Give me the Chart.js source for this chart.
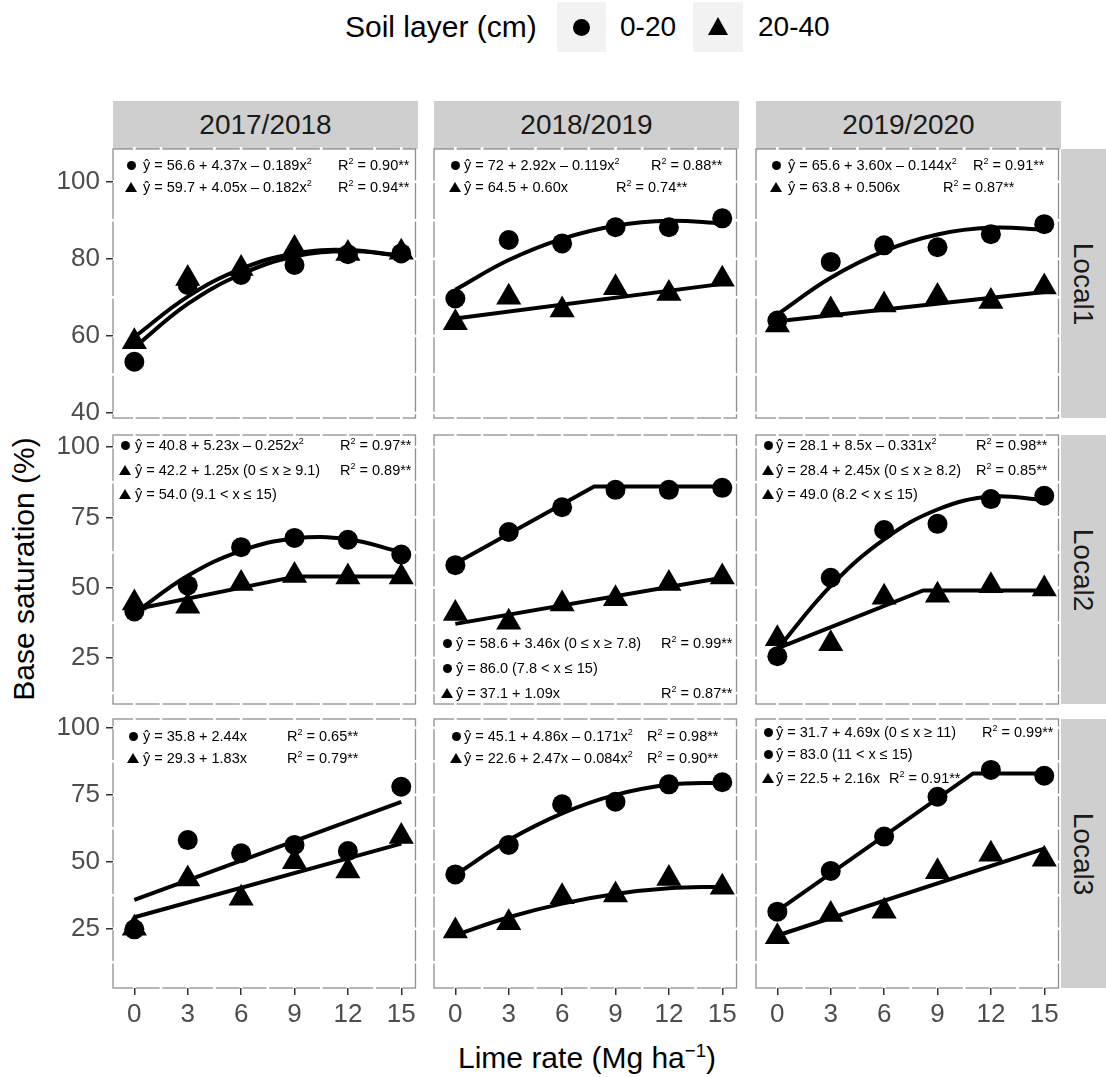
<!DOCTYPE html>
<html>
<head>
<meta charset="utf-8">
<script src="https://cdn.jsdelivr.net/npm/chart.js@4.4.0/dist/chart.umd.min.js"></script>
<style>
  html, body { margin: 0; padding: 0; background: #fff; }
  body { width: 1106px; height: 1077px; position: relative; overflow: hidden;
         font-family: "Liberation Sans", Arial, Helvetica, sans-serif; }
  .abs { position: absolute; white-space: nowrap; }
  canvas { position: absolute; }
  .strip { position: absolute; background: #cfcfcf; color: #1a1a1a; font-size: 28px;
           display: flex; align-items: center; justify-content: center; }
  .strip span { white-space: nowrap; }
  .strip.right span { transform: rotate(90deg); }
  .ann { position: absolute; font-size: 14.5px; line-height: 1; transform: translateY(-50%); white-space: nowrap; color: #000; }
  .ann sup, .ttl sup { font-size: 0.62em; vertical-align: 0.6em; line-height: 0; }
  .dot { position: absolute; background: #000; border-radius: 50%; }
  .tri { position: absolute; width: 0; height: 0; border-style: solid; border-color: transparent transparent #000 transparent; }
  .ttl { font-size: 30px; color: #000; }
</style>
</head>
<body>

<!-- legend -->
<div class="abs ttl" style="left:345px; top:27px; transform:translateY(-50%);">Soil layer (cm)</div>
<div class="abs" style="left:557px; top:2px; width:49px; height:50px; background:#f2f2f2;"></div>
<div class="dot" style="left:573px; top:18.5px; width:17px; height:17px;"></div>
<div class="abs" style="left:620px; top:27px; transform:translateY(-50%); font-size:28px;">0-20</div>
<div class="abs" style="left:693px; top:2px; width:50px; height:50px; background:#f2f2f2;"></div>
<div class="tri" style="left:708px; top:17px; border-width:0 10px 18px 10px;"></div>
<div class="abs" style="left:758px; top:27px; transform:translateY(-50%); font-size:28px;">20-40</div>

<!-- axis titles -->
<div class="abs ttl" style="left:587px; top:1058px; transform:translate(-50%,-50%);">Lime rate (Mg ha<sup>−1</sup>)</div>
<div class="abs ttl" style="left:24px; top:569px; transform:translate(-50%,-50%) rotate(-90deg);">Base saturation (%)</div>

<script>
// lime rates (x) and axis ticks
const xRates = [0, 3, 6, 9, 12, 15];
const xTicks = [0, 3, 6, 9, 12, 15];
const yTicksLocal1 = [40, 60, 80, 100];
const yTicksLocal23 = [25, 50, 75, 100];

const years = ['2017/2018', '2018/2019', '2019/2020'];
const sites = ['Local1', 'Local2', 'Local3'];

// observed base saturation, one row per season
const local1Top = [
  [53.3, 73.2, 75.8, 78.4, 81.2, 81.4],
  [69.7, 84.9, 84.0, 88.2, 88.2, 90.5],
  [64.0, 79.2, 83.5, 83.0, 86.4, 89.0]
];
const local1Sub = [
  [58.5, 74.9, 77.5, 82.7, 81.4, 81.7],
  [63.4, 70.0, 66.7, 72.5, 71.0, 74.7],
  [62.8, 66.7, 68.0, 70.2, 68.9, 72.7]
];
const local2Top = [
  [41.5, 50.8, 64.4, 67.7, 67.0, 61.8],
  [58.0, 69.8, 78.6, 84.8, 84.8, 85.5],
  [25.6, 53.5, 70.5, 72.7, 81.5, 82.7]
];
const local2Sub = [
  [44.5, 43.4, 51.5, 54.3, 53.8, 53.8],
  [40.8, 37.7, 44.2, 46.0, 51.5, 53.8],
  [31.8, 30.0, 46.6, 47.3, 50.7, 49.5]
];
const local3Top = [
  [24.8, 58.1, 53.2, 56.3, 54.0, 78.0],
  [45.3, 56.3, 71.5, 72.4, 78.9, 79.7],
  [31.4, 46.6, 59.4, 74.3, 84.3, 82.1]
];
const local3Sub = [
  [25.2, 43.6, 36.4, 50.0, 46.6, 59.4],
  [24.2, 27.3, 37.0, 37.6, 43.8, 40.5],
  [22.0, 30.3, 31.5, 46.3, 52.8, 51.0]
];

// fitted lines, [x, y] pairs
const local1TopFit = [
  [[0, 57.0], [3, 68.3], [6, 76.0], [9, 80.6], [12, 82.0], [15, 80.8]],
  [[0, 72.0], [3, 79.7], [6, 85.2], [9, 88.6], [12, 89.9], [15, 89.2]],
  [[0, 65.6], [3, 75.1], [6, 82.0], [9, 86.3], [12, 88.1], [15, 87.6]]
];
const local1SubFit = [
  [[0, 59.7], [3, 70.2], [6, 77.4], [9, 81.4], [12, 82.3], [15, 80.8]],
  [[0, 64.5], [15, 73.5]],
  [[0, 63.8], [15, 71.4]]
];
const local2TopFit = [
  [[0, 40.8], [3, 54.2], [6, 63.1], [9, 67.5], [12, 67.2], [15, 62.6]],
  [[0, 58.6], [7.8, 86.0], [15, 86.0]],
  [[0, 28.1], [3, 50.6], [6, 67.2], [9, 77.8], [12, 82.4], [15, 81.1]]
];
const local2SubFit = [
  [[0, 42.2], [9.1, 54.0], [15, 54.0]],
  [[0, 37.1], [15, 53.5]],
  [[0, 28.4], [8.2, 49.0], [15, 49.0]]
];
const local3TopFit = [
  [[0, 35.8], [15, 72.4]],
  [[0, 45.1], [3, 58.1], [6, 68.1], [9, 75.0], [12, 78.8], [15, 79.5]],
  [[0, 31.7], [11, 83.0], [15, 83.0]]
];
const local3SubFit = [
  [[0, 29.3], [15, 56.8]],
  [[0, 22.6], [3, 29.3], [6, 34.4], [9, 38.0], [12, 40.1], [15, 40.7]],
  [[0, 22.5], [15, 54.9]]
];
// quadratic fits get a smoothed line
const topCurved = [[true, true, true], [true, false, true], [false, true, false]];
const subCurved = [[true, false, false], [false, false, false], [false, true, false]];

const topObs = [local1Top, local2Top, local3Top];
const subObs = [local1Sub, local2Sub, local3Sub];
const topFits = [local1TopFit, local2TopFit, local3TopFit];
const subFits = [local1SubFit, local2SubFit, local3SubFit];

// regression labels: marker, y offset, text, R2
const notes = [
  [ // Local1
    {mx: 18, tx: 30, rx: 225, lines: [
      ['c', 16, 'ŷ = 56.6 + 4.37x – 0.189x<sup>2</sup>', '0.90**'],
      ['t', 38, 'ŷ = 59.7 + 4.05x – 0.182x<sup>2</sup>', '0.94**']]},
    {mx: 21, tx: 30, rx: [217, 182], lines: [
      ['c', 16, 'ŷ = 72 + 2.92x – 0.119x<sup>2</sup>', '0.88**'],
      ['t', 38, 'ŷ = 64.5 + 0.60x', '0.74**']]},
    {mx: 20, tx: 32, rx: [217, 187], lines: [
      ['c', 16, 'ŷ = 65.6 + 3.60x – 0.144x<sup>2</sup>', '0.91**'],
      ['t', 38, 'ŷ = 63.8 + 0.506x', '0.87**']]}
  ],
  [ // Local2
    {mx: 12, tx: 22, rx: 227, lines: [
      ['c', 10, 'ŷ = 40.8 + 5.23x – 0.252x<sup>2</sup>', '0.97**'],
      ['t', 35, 'ŷ = 42.2 + 1.25x (0 ≤ x ≥ 9.1)', '0.89**'],
      ['t', 59, 'ŷ = 54.0 (9.1 &lt; x ≤ 15)', null]]},
    {mx: 13, tx: 22, rx: 227, lines: [
      ['c', 208, 'ŷ = 58.6 + 3.46x (0 ≤ x ≥ 7.8)', '0.99**'],
      ['c', 233, 'ŷ = 86.0 (7.8 &lt; x ≤ 15)', null],
      ['t', 258, 'ŷ = 37.1 + 1.09x', '0.87**']]},
    {mx: 12, tx: 20, rx: 220, lines: [
      ['c', 10, 'ŷ = 28.1 + 8.5x – 0.331x<sup>2</sup>', '0.98**'],
      ['t', 35, 'ŷ = 28.4 + 2.45x (0 ≤ x ≥ 8.2)', '0.85**'],
      ['t', 59, 'ŷ = 49.0 (8.2 &lt; x ≤ 15)', null]]}
  ],
  [ // Local3
    {mx: 20, tx: 30, rx: 174, lines: [
      ['c', 17, 'ŷ = 35.8 + 2.44x', '0.65**'],
      ['t', 39, 'ŷ = 29.3 + 1.83x', '0.79**']]},
    {mx: 22, tx: 30, rx: 213, lines: [
      ['c', 17, 'ŷ = 45.1 + 4.86x – 0.171x<sup>2</sup>', '0.98**'],
      ['t', 39, 'ŷ = 22.6 + 2.47x – 0.084x<sup>2</sup>', '0.90**']]},
    {mx: 12, tx: 20, rx: [226, 0, 133], lines: [
      ['c', 13, 'ŷ = 31.7 + 4.69x (0 ≤ x ≥ 11)', '0.99**'],
      ['c', 35, 'ŷ = 83.0 (11 &lt; x ≤ 15)', null],
      ['t', 59, 'ŷ = 22.5 + 2.16x', '0.91**']]}
  ]
];

// layout
const FONT = '"Liberation Sans", Arial, Helvetica, sans-serif';
const colLeft = [113, 434, 756];
const rowTop = [149, 435, 719];
const PW = 305, PH = 269;
const PAD = {l: 75, t: 24, r: 12, b: 50};
const xRange = [-1.2, 15.8];
const yRange = [[38.7, 108.5], [8.6, 104.3], [2.9, 103.3]];

// gray panel frame, broken by the white grid lines like in the figure
const panelFrame = {
  id: 'panelFrame',
  beforeDraw(chart, args, opts) {
    const {ctx, chartArea: a} = chart;
    const xs = chart.scales.x, ys = chart.scales.y;
    ctx.save();
    ctx.strokeStyle = '#8f8f8f';
    ctx.lineWidth = 1.3;
    ctx.strokeRect(a.left, a.top, a.right - a.left, a.bottom - a.top);
    ctx.fillStyle = '#fff';
    opts.xGrid.forEach(v => {
      const p = xs.getPixelForValue(v);
      if (p < a.left + 2 || p > a.right - 2) return;
      ctx.fillRect(p - 1.3, a.top - 2, 2.6, 4);
      ctx.fillRect(p - 1.3, a.bottom - 2, 2.6, 4);
    });
    opts.yGrid.forEach(v => {
      const p = ys.getPixelForValue(v);
      if (p < a.top + 2 || p > a.bottom - 2) return;
      ctx.fillRect(a.left - 2, p - 1.3, 4, 2.6);
      ctx.fillRect(a.right - 2, p - 1.3, 4, 2.6);
    });
    ctx.restore();
  }
};

function pts(ys) { return xRates.map((x, i) => ({x: x, y: ys[i]})); }
function line(arr) { return arr.map(p => ({x: p[0], y: p[1]})); }
function halfSteps(ticks, lo, hi) {
  const step = (ticks[1] - ticks[0]) / 2;
  const out = [];
  for (let v = ticks[0] - 2 * step; v <= ticks[ticks.length - 1] + 2 * step; v += step) {
    if (v > lo && v < hi) out.push(v);
  }
  return out;
}

function addEl(cls, style, html) {
  const d = document.createElement('div');
  d.className = cls;
  Object.assign(d.style, style);
  if (html != null) d.innerHTML = html;
  document.body.appendChild(d);
  return d;
}

// strips
years.forEach((yr, c) => {
  addEl('strip', {left: colLeft[c] + 'px', top: '101px', width: PW + 'px', height: '48px'}, '<span>' + yr + '</span>');
});
sites.forEach((s, r) => {
  addEl('strip right', {left: '1061px', top: rowTop[r] + 'px', width: '45px', height: PH + 'px'}, '<span>' + s + '</span>');
});

for (let r = 0; r < 3; r++) {
  for (let c = 0; c < 3; c++) {
    const cv = document.createElement('canvas');
    const W = PW + PAD.l + PAD.r, H = PH + PAD.t + PAD.b;
    cv.width = W; cv.height = H;
    cv.style.left = (colLeft[c] - PAD.l) + 'px';
    cv.style.top = (rowTop[r] - PAD.t) + 'px';
    cv.style.width = W + 'px'; cv.style.height = H + 'px';
    document.body.appendChild(cv);

    const yTicks = r === 0 ? yTicksLocal1 : yTicksLocal23;
    const showY = c === 0, showX = r === 2;

    new Chart(cv, {
      type: 'scatter',
      data: {
        datasets: [
          {
            label: '0-20',
            data: pts(topObs[r][c]),
            pointStyle: 'circle', pointRadius: 10,
            pointBackgroundColor: '#000', pointBorderWidth: 0,
            clip: false
          },
          {
            label: '20-40',
            data: pts(subObs[r][c]),
            pointStyle: 'triangle', pointRadius: 14.5,
            pointBackgroundColor: '#000', pointBorderWidth: 0,
            clip: false
          },
          {
            type: 'line',
            data: line(topFits[r][c]),
            borderColor: '#000', borderWidth: 4, pointRadius: 0,
            tension: topCurved[r][c] ? 0.4 : 0, borderCapStyle: 'butt'
          },
          {
            type: 'line',
            data: line(subFits[r][c]),
            borderColor: '#000', borderWidth: 4, pointRadius: 0,
            tension: subCurved[r][c] ? 0.4 : 0, borderCapStyle: 'butt'
          }
        ]
      },
      options: {
        responsive: false,
        animation: false,
        events: [],
        layout: { padding: { top: PAD.t, right: PAD.r, left: 0, bottom: 0 } },
        plugins: {
          legend: { display: false },
          tooltip: { enabled: false },
          panelFrame: { xGrid: halfSteps(xTicks, xRange[0], xRange[1]), yGrid: halfSteps(yTicks, yRange[r][0], yRange[r][1]) }
        },
        scales: {
          x: {
            type: 'linear', min: xRange[0], max: xRange[1],
            afterBuildTicks: s => { s.ticks = xTicks.map(v => ({value: v})); },
            afterFit: s => { s.height = PAD.b; },
            grid: { display: showX, drawOnChartArea: false, tickLength: 7, color: '#333', lineWidth: 1.5 },
            border: { display: false },
            ticks: { display: showX, autoSkip: false, maxRotation: 0, padding: 4, color: '#4d4d4d', font: { family: FONT, size: 26 } }
          },
          y: {
            type: 'linear', min: yRange[r][0], max: yRange[r][1],
            afterBuildTicks: s => { s.ticks = yTicks.map(v => ({value: v})); },
            afterFit: s => { s.width = PAD.l; },
            grid: { display: showY, drawOnChartArea: false, tickLength: 7, color: '#333', lineWidth: 1.5 },
            border: { display: false },
            ticks: { display: showY, padding: 6, color: '#4d4d4d', font: { family: FONT, size: 26 } }
          }
        }
      },
      plugins: [panelFrame]
    });

    // regression labels
    const n = notes[r][c];
    const px = colLeft[c], py = rowTop[r];
    n.lines.forEach((ln, i) => {
      const [m, dy, txt, r2] = ln;
      const cy = py + dy;
      if (m === 'c') {
        addEl('dot', {left: (px + n.mx - 4.5) + 'px', top: (cy - 4.5) + 'px', width: '9px', height: '9px'});
      } else {
        addEl('tri', {left: (px + n.mx - 6) + 'px', top: (cy - 5.5) + 'px', borderWidth: '0 6px 10px 6px'});
      }
      addEl('ann', {left: (px + n.tx) + 'px', top: cy + 'px'}, txt);
      if (r2) {
        const rx = Array.isArray(n.rx) ? n.rx[i] : n.rx;
        addEl('ann', {left: (px + rx) + 'px', top: cy + 'px'}, 'R<sup>2</sup> = ' + r2);
      }
    });
  }
}
</script>
</body>
</html>
